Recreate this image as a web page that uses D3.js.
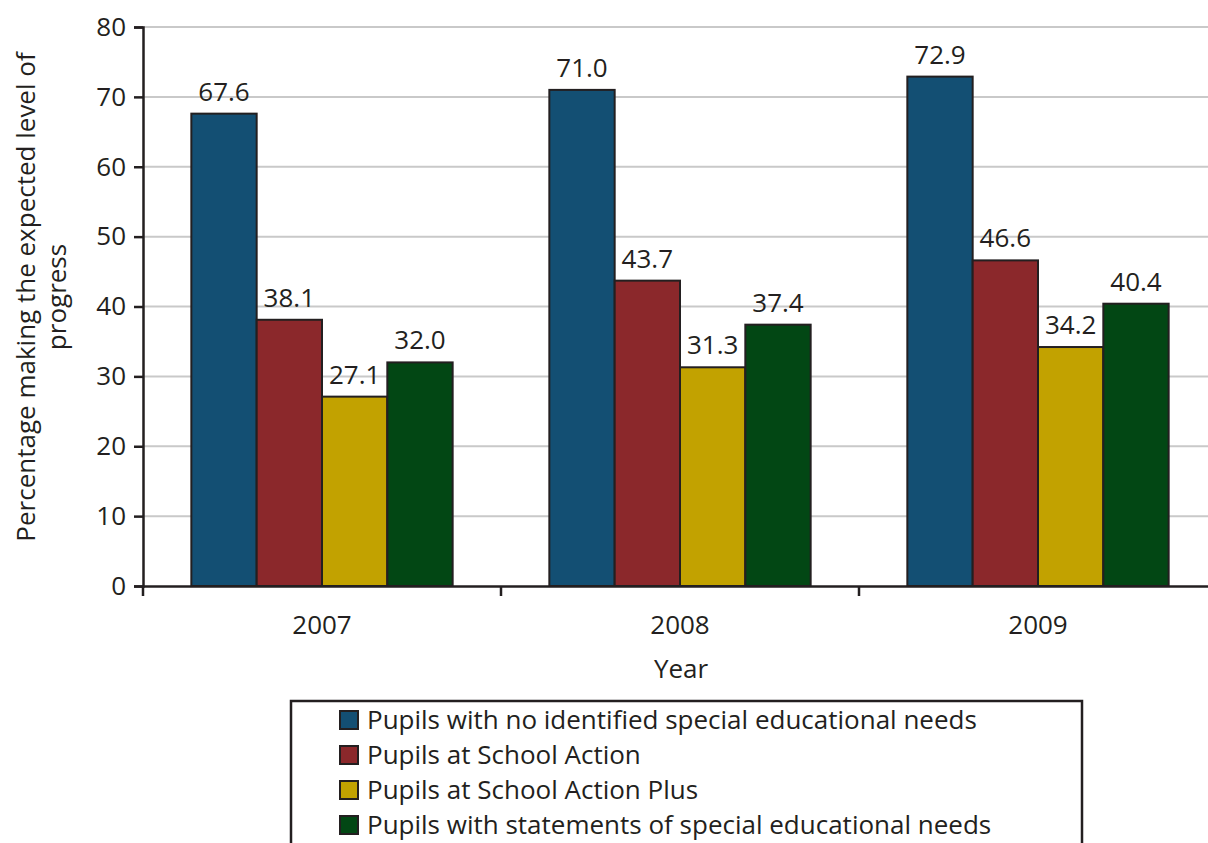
<!DOCTYPE html>
<html>
<head>
<meta charset="utf-8">
<script src="https://cdn.jsdelivr.net/npm/d3@7"></script>
<style>
  html, body { margin: 0; padding: 0; background: #fff; }
  svg { display: block; font-family: "Open Sans", "Noto Sans", sans-serif; }
</style>
</head>
<body>
<svg id="chart" width="1208" height="843"></svg>
<script>
// Progress figures by year and pupil group
const years = ["2007", "2008", "2009"];
const seriesNames = [
  "Pupils with no identified special educational needs",
  "Pupils at School Action",
  "Pupils at School Action Plus",
  "Pupils with statements of special educational needs"
];
const noSEN = [67.6, 71.0, 72.9];
const schoolAction = [38.1, 43.7, 46.6];
const schoolActionPlus = [27.1, 31.3, 34.2];
const statements = [32.0, 37.4, 40.4];
const yTicks = [0, 10, 20, 30, 40, 50, 60, 70, 80];
const colors = ["#134f73", "#8b282b", "#c2a200", "#024714"];

const seriesValues = [noSEN, schoolAction, schoolActionPlus, statements];

const svg = d3.select("#chart");
const ink = "#231f20";
const fs = 26;

const x0 = d3.scaleBand().domain(years).range([143, 1217]).paddingInner(0).paddingOuter(0);
const x1 = d3.scaleBand().domain(d3.range(seriesNames.length))
  .range([0, x0.bandwidth()]).paddingInner(0).paddingOuter(0.74);
const y = d3.scaleLinear().domain([0, 80]).range([586, 27]);

// horizontal gridlines
svg.append("g").selectAll("line").data(yTicks.filter(d => d > 0)).join("line")
  .attr("x1", 143).attr("x2", 1217)
  .attr("y1", d => y(d)).attr("y2", d => y(d))
  .attr("stroke", "#c9c9c9").attr("stroke-width", 2);

// bars
const groups = svg.append("g").selectAll("g").data(years).join("g")
  .attr("transform", d => `translate(${x0(d)},0)`);

groups.each(function(year, yi) {
  const g = d3.select(this);
  const vals = seriesValues.map((s, si) => ({ si, v: s[yi] }));
  g.selectAll("rect").data(vals).join("rect")
    .attr("x", d => x1(d.si))
    .attr("y", d => y(d.v))
    .attr("width", x1.bandwidth())
    .attr("height", d => y(0) - y(d.v))
    .attr("fill", d => colors[d.si])
    .attr("stroke", ink).attr("stroke-width", 2);
  g.selectAll("text").data(vals).join("text")
    .attr("x", d => x1(d.si) + x1.bandwidth() / 2)
    .attr("y", d => y(d.v) - 13)
    .attr("text-anchor", "middle")
    .attr("font-size", fs)
    .attr("fill", ink)
    .text(d => d.v.toFixed(1));
});

// y axis
const yAxis = svg.append("g").attr("transform", "translate(143,0)")
  .call(d3.axisLeft(y).tickValues(yTicks).tickSize(9).tickPadding(8));
yAxis.select(".domain").attr("stroke", ink).attr("stroke-width", 2.5);
yAxis.selectAll(".tick line").attr("stroke", ink).attr("stroke-width", 2.5);
yAxis.selectAll(".tick text").attr("font-size", fs).attr("fill", ink)
  .attr("font-family", "'Open Sans', sans-serif");

// x axis
const xAxis = svg.append("g").attr("transform", "translate(0,586)")
  .call(d3.axisBottom(x0).tickSize(0).tickPadding(30));
xAxis.select(".domain").attr("stroke", ink).attr("stroke-width", 2.5);
xAxis.selectAll(".tick text").attr("font-size", fs).attr("fill", ink)
  .attr("font-family", "'Open Sans', sans-serif");
// category boundary ticks
svg.append("g").selectAll("line").data(years).join("line")
  .attr("x1", d => x0(d)).attr("x2", d => x0(d))
  .attr("y1", 586).attr("y2", 596)
  .attr("stroke", ink).attr("stroke-width", 2.5);

// axis titles
svg.append("text").attr("x", 681).attr("y", 678).attr("text-anchor", "middle")
  .attr("font-size", fs).attr("fill", ink).text("Year");
const yTitle = svg.append("text").attr("transform", "translate(35,297) rotate(-90)")
  .attr("text-anchor", "middle").attr("font-size", fs).attr("fill", ink);
yTitle.append("tspan").attr("x", 0).attr("dy", 0).text("Percentage making the expected level of");
yTitle.append("tspan").attr("x", 0).attr("dy", 31).text("progress");

// legend
const legend = svg.append("g");
legend.append("rect").attr("x", 291).attr("y", 701).attr("width", 791).attr("height", 170)
  .attr("fill", "#fff").attr("stroke", ink).attr("stroke-width", 2.5);
const items = legend.selectAll("g.item").data(seriesNames).join("g")
  .attr("class", "item")
  .attr("transform", (d, i) => `translate(340,${711 + i * 35})`);
items.append("rect").attr("width", 18).attr("height", 18)
  .attr("fill", (d, i) => colors[i]).attr("stroke", ink).attr("stroke-width", 2);
items.append("text").attr("x", 27).attr("y", 18)
  .attr("font-size", fs).attr("fill", ink).text(d => d);
</script>
</body>
</html>
